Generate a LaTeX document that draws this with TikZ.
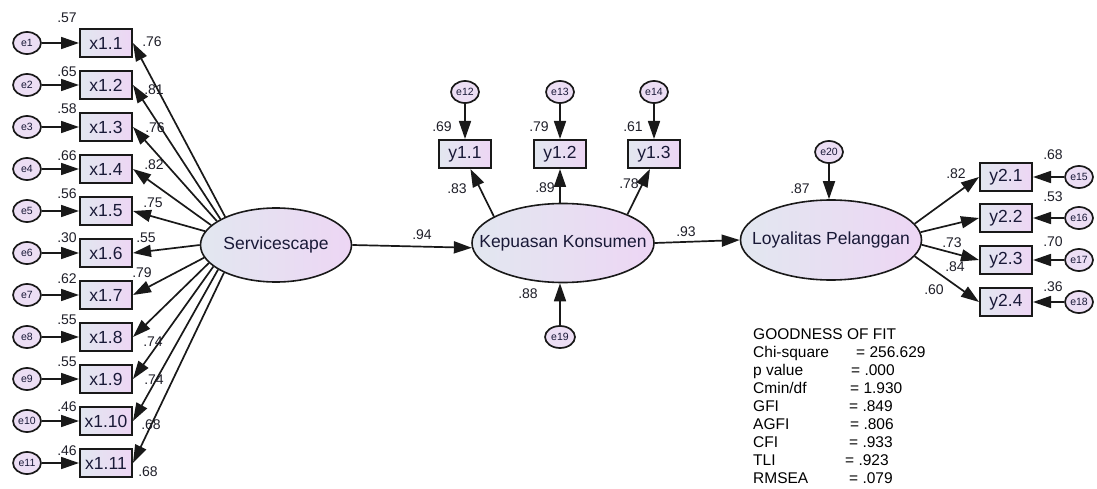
\documentclass[tikz,border=0pt]{standalone}
\usepackage{fontspec}
\setmainfont{Liberation Sans}
\usetikzlibrary{shapes.geometric,arrows.meta}
\definecolor{fillL}{RGB}{226,231,240}
\definecolor{fillR}{RGB}{237,214,244}
\definecolor{errf}{RGB}{236,222,244}
\definecolor{txt}{RGB}{25,25,55}
\definecolor{lnc}{RGB}{25,25,25}
\definecolor{lbc}{RGB}{30,30,40}
\begin{document}
\begin{tikzpicture}[x=1pt,y=-1pt,
 obs/.style={rectangle, draw=lnc, line width=2pt, minimum width=52pt, minimum height=28pt, inner sep=0pt, left color=fillL, right color=fillR, text=txt, font=\fontsize{17.5}{20}\selectfont},
 lat/.style={ellipse, draw=lnc, line width=1.6pt, inner sep=0pt, left color=fillL, right color=fillR, text=txt, font=\fontsize{17.5}{20}\selectfont},
 err/.style={ellipse, draw=lnc, line width=1.7pt, minimum width=28pt, minimum height=22pt, inner sep=0pt, fill=errf, text=txt, font=\fontsize{10.5}{12}\selectfont},
 arr/.style={draw=lnc, line width=1.7pt, -{Triangle[length=18pt,width=12pt]}},
 lbl/.style={inner sep=0pt, text=lbc, font=\fontsize{14}{16}\selectfont},
 gof/.style={inner sep=0pt, anchor=base west, text=black, font=\fontsize{15.5}{18}\selectfont}]
\useasboundingbox (0,0) rectangle (1097,489);

% latent variables
\node[lat, minimum width=151pt, minimum height=74pt] (S) at (276,245) {\makebox[0pt]{Servicescape}};
\node[lat, minimum width=182pt, minimum height=79pt] (K) at (563,243) {\makebox[0pt]{Kepuasan Konsumen}};
\node[lat, minimum width=181pt, minimum height=80pt] (L) at (831,240) {\makebox[0pt]{Loyalitas Pelanggan}};

% Servicescape indicators
\node[obs] (x1) at (106,43) {x1.1};
\node[obs] (x2) at (106,85) {x1.2};
\node[obs] (x3) at (106,127) {x1.3};
\node[obs] (x4) at (106,169) {x1.4};
\node[obs] (x5) at (106,211) {x1.5};
\node[obs] (x6) at (106,253) {x1.6};
\node[obs] (x7) at (106,295) {x1.7};
\node[obs] (x8) at (106,337) {x1.8};
\node[obs] (x9) at (106,379) {x1.9};
\node[obs] (x10) at (106,421) {x1.10};
\node[obs] (x11) at (106,463) {x1.11};

\node[err] (e1) at (27,43) {e1};
\node[err] (e2) at (27,85) {e2};
\node[err] (e3) at (27,127) {e3};
\node[err] (e4) at (27,169) {e4};
\node[err] (e5) at (27,211) {e5};
\node[err] (e6) at (27,253) {e6};
\node[err] (e7) at (27,295) {e7};
\node[err] (e8) at (27,337) {e8};
\node[err] (e9) at (27,379) {e9};
\node[err] (e10) at (27,421) {e10};
\node[err] (e11) at (27,463) {e11};

\foreach \i in {1,...,11}{\draw[arr] (e\i) -- (x\i);}

\draw[arr] (S.151) -- (x1.east);
\draw[arr] (S.155) -- (x2.east);
\draw[arr] (S.158) -- (x3.east);
\draw[arr] (S.163) -- (x4.east);
\draw[arr] (S.169) -- (x5.east);
\draw[arr] (S.180) -- (x6.east);
\draw[arr] (S.190) -- (x7.east);
\draw[arr] (S.195) -- (x8.east);
\draw[arr] (S.199) -- (x9.east);
\draw[arr] (S.203) -- (x10.east);
\draw[arr] (S.208) -- (x11.east);

% variance labels left
\node[lbl] (v1) at (67,18) {.57};
\node[lbl] (v2) at (67,72) {.65};
\node[lbl] (v3) at (67,109) {.58};
\node[lbl] (v4) at (67,156) {.66};
\node[lbl] (v5) at (67,194) {.56};
\node[lbl] (v6) at (67,238) {.30};
\node[lbl] (v7) at (67,279) {.62};
\node[lbl] (v8) at (67,320) {.55};
\node[lbl] (v9) at (67,362) {.55};
\node[lbl] (v10) at (67,407) {.46};
\node[lbl] (v11) at (67,451) {.46};

% loading labels left
\node[lbl] (l1) at (152,42) {.76};
\node[lbl] (l2) at (154,90) {.81};
\node[lbl] (l3) at (155,128) {.76};
\node[lbl] (l4) at (154,165) {.82};
\node[lbl] (l5) at (153,203) {.75};
\node[lbl] (l6) at (146,238) {.55};
\node[lbl] (l7) at (142,273) {.79};
\node[lbl] (l8) at (153,342) {.74};
\node[lbl] (l9) at (154,380) {.74};
\node[lbl] (l10) at (151,425) {.68};
\node[lbl] (l11) at (148,472) {.68};

% Kepuasan indicators
\node[obs] (y11) at (465,154) {y1.1};
\node[obs] (y12) at (560,154) {y1.2};
\node[obs] (y13) at (654,154) {y1.3};
\node[err] (e12) at (465,92) {e12};
\node[err] (e13) at (560,92) {e13};
\node[err] (e14) at (654,92) {e14};
\draw[arr] (e12) -- (y11);
\draw[arr] (e13) -- (y12);
\draw[arr] (e14) -- (y13);
\draw[arr] (K.159) -- (y11.-70);
\draw[arr] (K.north -| y12) -- (y12.south);
\draw[arr] (K.24) -- (y13.-105);
\node[lbl] (v12) at (442,127) {.69};
\node[lbl] (v13) at (539,127) {.79};
\node[lbl] (v14) at (633,127) {.61};
\node[lbl] (l12) at (457,189) {.83};
\node[lbl] (l13) at (545,188) {.89};
\node[lbl] (l14) at (629,184) {.78};

\node[err, minimum width=30pt] (e19) at (560,337) {e19};
\draw[arr] (e19) -- (e19 |- K.south);
\node[lbl] (v19) at (528,294) {.88};

% structural paths
\draw[arr] (S.east) -- (K.183);
\node[lbl] (p1) at (422,235) {.94};
\draw[arr] (K.east) -- (L.west);
\node[lbl] (p2) at (686,232) {.93};

\node[err] (e20) at (829,152) {e20};
\draw[arr] (e20) -- (e20 |- L.north);
\node[lbl] (v20) at (800,189) {.87};

% Loyalitas indicators
\node[obs] (y21) at (1006,177) {y2.1};
\node[obs] (y22) at (1006,218) {y2.2};
\node[obs] (y23) at (1006,260) {y2.3};
\node[obs] (y24) at (1006,302) {y2.4};
\node[err] (e15) at (1079,177) {e15};
\node[err] (e16) at (1079,218) {e16};
\node[err] (e17) at (1079,260) {e17};
\node[err] (e18) at (1079,302) {e18};
\draw[arr] (e15) -- (y21);
\draw[arr] (e16) -- (y22);
\draw[arr] (e17) -- (y23);
\draw[arr] (e18) -- (y24);
\draw[arr] (L.11) -- (y21.west);
\draw[arr] (L.5) -- (y22.west);
\draw[arr] (L.-3) -- (y23.west);
\draw[arr] (L.-11) -- (y24.west);
\node[lbl] (v15) at (1053,155) {.68};
\node[lbl] (v16) at (1053,197) {.53};
\node[lbl] (v17) at (1053,242) {.70};
\node[lbl] (v18) at (1053,287) {.36};
\node[lbl] (l15) at (956,174) {.82};
\node[lbl] (l17) at (952,243) {.73};
\node[lbl] (l16) at (955,267) {.84};
\node[lbl] (l18) at (934,290) {.60};

% goodness of fit
\node[gof] (g0) at (753,339) {GOODNESS OF FIT};
\node[gof] (g1) at (753,357.1) {Chi-square};
\node[gof] (g1v) at (856,357.1) {= 256.629};
\node[gof] (g2) at (753,375.2) {p value};
\node[gof] (g2v) at (851,375.2) {= .000};
\node[gof] (g3) at (753,393.3) {Cmin/df};
\node[gof] (g3v) at (850,393.3) {= 1.930};
\node[gof] (g4) at (753,411.4) {GFI};
\node[gof] (g4v) at (849,411.4) {= .849};
\node[gof] (g5) at (753,429.5) {AGFI};
\node[gof] (g5v) at (850,429.5) {= .806};
\node[gof] (g6) at (753,447.6) {CFI};
\node[gof] (g6v) at (849,447.6) {= .933};
\node[gof] (g7) at (753,465.7) {TLI};
\node[gof] (g7v) at (845,465.7) {= .923};
\node[gof] (g8) at (753,483.8) {RMSEA};
\node[gof] (g8v) at (849,483.8) {= .079};
\end{tikzpicture}
\end{document}
